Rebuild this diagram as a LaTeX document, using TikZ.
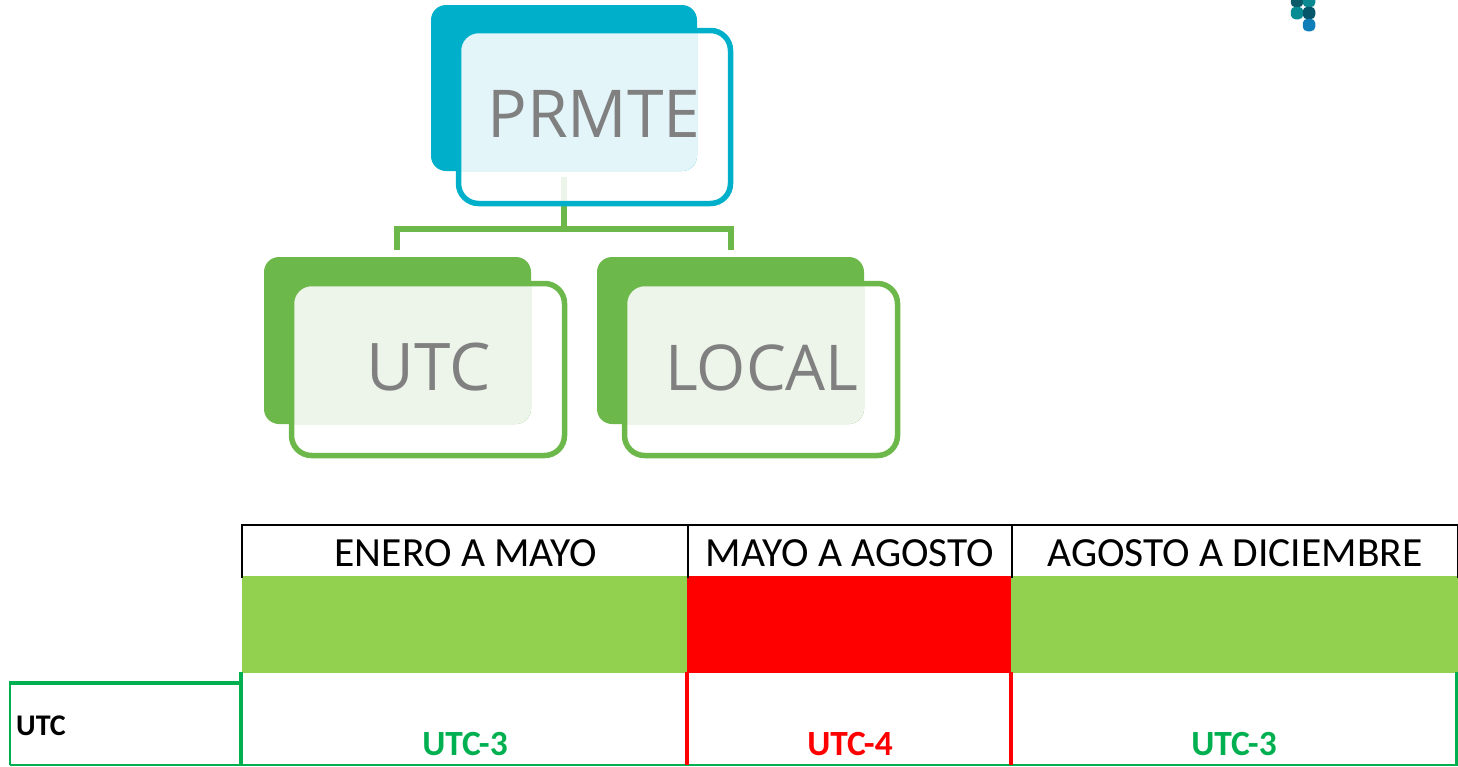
\documentclass[tikz,border=0pt]{standalone}
\usepackage{fontspec}
\setmainfont{Carlito}
\newfontfamily\orgfont{Open Sans}
\definecolor{cblue}{HTML}{00B0CA}
\definecolor{cbluel}{HTML}{E3F5F9}
\definecolor{cgreen}{HTML}{6DB84A}
\definecolor{cgreenl}{HTML}{EDF5EA}
\definecolor{tgreen}{HTML}{92D050}
\definecolor{lgreen}{HTML}{00B050}
\definecolor{logoa}{HTML}{0B5A68}
\definecolor{logob}{HTML}{0A8A90}
\definecolor{logoc}{HTML}{068C92}
\definecolor{logod}{HTML}{06566A}
\definecolor{logoe}{HTML}{0F7DB8}
\tikzset{
  x=1pt,y=-1pt,
  backbox/.style={rounded corners=15pt,draw=none},
  outlinebox/.style={rounded corners=20pt,line width=5.5pt,fill=none},
  orgtext/.style={font=\orgfont\fontsize{66}{70}\selectfont,text=black!50,inner sep=0pt,anchor=base},
  headtext/.style={font=\fontsize{41.5}{44}\selectfont,text=black,inner sep=0pt,anchor=base},
  valtext/.style={font=\bfseries\fontsize{35.4}{38}\selectfont,inner sep=0pt,anchor=base},
  link/.style={draw=cgreen,line width=5.5pt},
  tline/.style={draw=black,line width=2pt},
  dot/.style={rectangle,rounded corners=4.5pt,inner sep=0pt,minimum size=12.5pt,draw=none}
}
\begin{document}
\begin{tikzpicture}
\useasboundingbox (0,0) rectangle (1458,766);
% connector
\coordinate (tee) at (564,229);
\coordinate (lfoot) at (397,250);
\coordinate (rfoot) at (731,250);
\coordinate (pfoot) at (564,204);
\draw[link] (pfoot) -- (tee);
\draw[link] (lfoot) |- (tee) -| (rfoot);
\fill[cgreenl] (561,177) rectangle (567,204);
% PRMTE
\fill[cblue,backbox] (431,5) rectangle (697,171);
\begin{scope}
\clip[rounded corners=15pt] (431,5) rectangle (697,171);
\fill[cbluel,rounded corners=18pt] (459,31) rectangle (730,203);
\end{scope}
\draw[cblue,outlinebox] (458.5,30.5) rectangle (730.5,203.5);
\node[orgtext] (prmte) at (594,137) {PRMTE};
% UTC
\fill[cgreen,backbox] (264,257) rectangle (531,424);
\begin{scope}
\clip[rounded corners=15pt] (264,257) rectangle (531,424);
\fill[cgreenl,rounded corners=18pt] (292,284) rectangle (564,455);
\end{scope}
\draw[cgreen,outlinebox] (291.5,283.5) rectangle (564.5,455.5);
\node[orgtext,font=\orgfont\fontsize{65.7}{70}\selectfont] (utcbox) at (429,390) {UTC};
% LOCAL
\fill[cgreen,backbox] (597,257) rectangle (864,424);
\begin{scope}
\clip[rounded corners=15pt] (597,257) rectangle (864,424);
\fill[cgreenl,rounded corners=18pt] (625,284) rectangle (897,455);
\end{scope}
\draw[cgreen,outlinebox] (624.5,283.5) rectangle (897.5,455.5);
\node[orgtext,font=\orgfont\fontsize{63.2}{70}\selectfont] (localbox) at (762,390) {LOCAL};
% table fills
\fill[tgreen] (242,576) rectangle (687,673);
\fill[red] (687,576) rectangle (1011,673);
\fill[tgreen] (1011,576) rectangle (1458,673);
% header lines
\draw[tline] (241,524.5) -- (1458,524.5);
\draw[black,line width=1.6pt] (242,524) -- (242,578);
\draw[black,line width=1.6pt] (688,524) -- (688,578);
\draw[black,line width=1.6pt] (1012,524) -- (1012,578);
\draw[black,line width=1.6pt] (1457.5,524) -- (1457.5,578);
% body lines
\draw[lgreen,line width=1.5pt] (10,682) -- (10,765);
\draw[lgreen,line width=2.5pt] (10,764.8) -- (1458,764.8);
\draw[lgreen,line width=3.5pt] (9,683) -- (241,683);
\draw[lgreen,line width=3.5pt] (241,672) -- (241,766);
\draw[lgreen,line width=3pt] (1456.5,672) -- (1456.5,766);
\draw[red,line width=3.5pt] (687,672) -- (687,765);
\draw[red,line width=3.5pt] (1011,672) -- (1011,765);
% texts
\node[headtext] (h1) at (466,566.5) {ENERO A MAYO};
\node[headtext] (h2) at (850,566.5) {MAYO A AGOSTO};
\node[headtext] (h3) at (1235,566.5) {AGOSTO A DICIEMBRE};
\node[valtext,text=black,font=\bfseries\fontsize{30}{32}\selectfont] (rowlabel) at (41,735.5) {UTC};
\node[valtext,text=lgreen] (v1) at (465,755.5) {UTC-3};
\node[valtext,text=red] (v2) at (850,755.5) {UTC-4};
\node[valtext,text=lgreen] (v3) at (1234,755.5) {UTC-3};
% logo fragment
\node[dot,fill=logoa] (d1) at (1297,1) {};
\node[dot,fill=logob] (d2) at (1309,1) {};
\node[dot,fill=logoc] (d3) at (1297,13) {};
\node[dot,fill=logod] (d4) at (1309,13) {};
\node[dot,fill=logoe] (d5) at (1309,25) {};
\end{tikzpicture}
\end{document}
